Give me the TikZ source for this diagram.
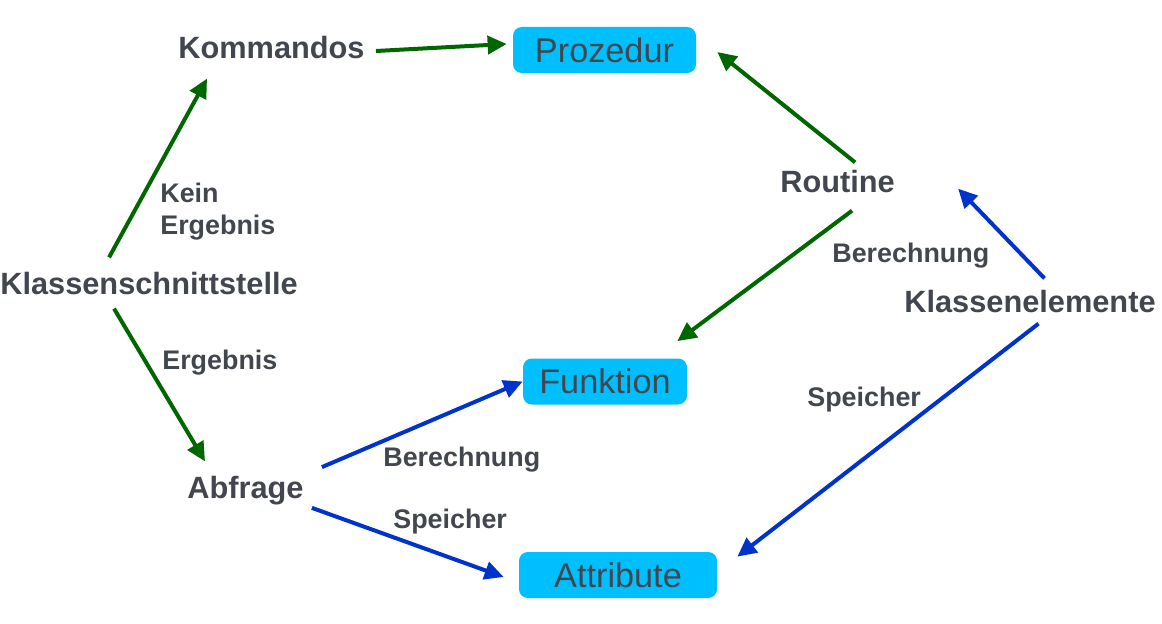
\documentclass[tikz,border=0pt]{standalone}
\usepackage{fontspec}
\setmainfont{Liberation Sans}
\usepackage{xcolor}
\usepackage{tikz}
\usetikzlibrary{arrows.meta}
\definecolor{boxcyan}{HTML}{00BFFF}
\definecolor{textgray}{HTML}{42474F}
\definecolor{flowgreen}{HTML}{006600}
\definecolor{flowblue}{HTML}{0033CC}

\begin{document}
\begin{tikzpicture}[
  >={Triangle[length=0.38cm,width=0.36cm]},
  every node/.style={text=textgray, inner sep=0pt},
  term/.style={anchor=base west, font=\fontsize{17.5}{21}\selectfont\bfseries},
  box/.style={fill=boxcyan, rounded corners=5pt, minimum height=0.92cm, font=\fontsize{19.5}{23}\selectfont},
  lab/.style={anchor=base west, align=left, font=\fontsize{15.3}{18.1}\selectfont\bfseries},
  gflow/.style={->, line width=0.08cm, draw=flowgreen},
  bflow/.style={->, line width=0.08cm, draw=flowblue}
]
\useasboundingbox (0,0) rectangle (23.24,12.46);

\node[box, minimum width=3.66cm] (prozedur) at (12.09,11.46) {Prozedur};
\node[box, minimum width=3.28cm] (funktion) at (12.10,4.83) {Funktion};
\node[box, minimum width=3.96cm] (attribute) at (12.36,0.96) {Attribute};

\node[term] (kommandos) at (3.56,11.28) {Kommandos};
\node[term] (schnitt) at (0,6.58) {Klassenschnittstelle};
\node[term] (abfrage) at (3.74,2.50) {Abfrage};
\node[term] (routine) at (15.60,8.62) {Routine};
\node[term] (elemente) at (18.08,6.22) {Klassenelemente};

\node[lab] (kein) at (3.20,7.78) {Kein\\Ergebnis};
\node[lab] (ergebnis) at (3.24,5.08) {Ergebnis};
\node[lab] (berechA) at (16.64,7.22) {Berechnung};
\node[lab] (speicherA) at (16.14,4.34) {Speicher};
\node[lab] (berechB) at (7.66,3.14) {Berechnung};
\node[lab] (speicherB) at (7.86,1.90) {Speicher};

% green: interface side
\draw[gflow] ([xshift=0.22cm,yshift=-0.06cm]kommandos.east) -- ([xshift=-0.12cm,yshift=0.12cm]prozedur.west);
\draw[gflow] ([xshift=0.35cm,yshift=0.14cm]routine.north) -- ([xshift=0.42cm,yshift=-0.04cm]prozedur.east);
\draw[gflow] ([xshift=-0.8cm,yshift=0.28cm]schnitt.north) -- ([xshift=0.58cm,yshift=-0.38cm]kommandos.south west);
\draw[gflow] ([xshift=-0.7cm,yshift=-0.28cm]schnitt.south) -- ([xshift=0.36cm,yshift=0.28cm]abfrage.north west);
\draw[gflow] ([xshift=0.29cm,yshift=-0.36cm]routine.south) -- ([xshift=-0.2cm,yshift=0.34cm]funktion.north east);

% blue: class members
\draw[bflow] ([xshift=0.36cm,yshift=0.46cm]abfrage.east) -- (funktion.west);
\draw[bflow] ([xshift=0.16cm,yshift=-0.06cm]abfrage.south east) -- ([xshift=-0.3cm,yshift=-0.04cm]attribute.west);
\draw[bflow] ([xshift=0.29cm,yshift=0.22cm]elemente.north) -- ([xshift=1.26cm,yshift=0.08cm]routine.south east);
\draw[bflow] ([xshift=0.17cm,yshift=-0.22cm]elemente.south) -- ([xshift=0.4cm,yshift=-0.1cm]attribute.north east);
\end{tikzpicture}
\end{document}
